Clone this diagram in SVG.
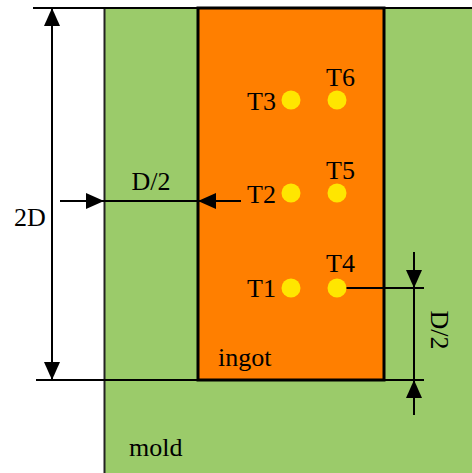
<svg xmlns="http://www.w3.org/2000/svg" width="472" height="473" viewBox="0 0 472 473">
<style>
  text { font-family: "Liberation Serif", "Times New Roman", serif; font-size: 26px; fill: #000; }
  .dim { stroke: #000; stroke-width: 2; fill: none; }
  .dot { fill: #FFE600; }
</style>
<defs>
  <marker id="arr" viewBox="0 0 18 16" refX="18" refY="8" markerWidth="18" markerHeight="16" markerUnits="userSpaceOnUse" orient="auto-start-reverse">
    <path d="M0,0 L18,8 L0,16 z" fill="#000"/>
  </marker>
</defs>
<rect width="472" height="473" fill="#fff"/>
<g id="mold">
  <rect x="104" y="8" width="370" height="467" fill="#9BCB6A"/>
  <line x1="104.5" y1="8" x2="104.5" y2="473" stroke="#222" stroke-width="2"/>
  <text x="129" y="456">mold</text>
</g>
<g id="ingot">
  <rect x="198" y="8" width="186" height="372" fill="#FF7F00" stroke="#000" stroke-width="3"/>
  <text x="218" y="366">ingot</text>
</g>
<g id="T1"><circle class="dot" cx="291" cy="288" r="9.5"/><text x="247" y="297">T1</text></g>
<g id="T2"><circle class="dot" cx="291" cy="193" r="9.5"/><text x="247" y="203">T2</text></g>
<g id="T3"><circle class="dot" cx="291" cy="100" r="9.5"/><text x="247" y="110">T3</text></g>
<g id="T4"><circle class="dot" cx="337" cy="288" r="9.5"/><text x="326" y="272">T4</text></g>
<g id="T5"><circle class="dot" cx="337" cy="193" r="9.5"/><text x="326" y="179">T5</text></g>
<g id="T6"><circle class="dot" cx="337" cy="100" r="9.5"/><text x="326" y="86">T6</text></g>
<g id="connectors">
  <line class="dim" x1="33" y1="8" x2="472" y2="8"/>
  <line class="dim" x1="36" y1="380" x2="424" y2="380"/>
  <line class="dim" x1="52" y1="380" x2="52" y2="8" marker-start="url(#arr)" marker-end="url(#arr)"/>
  <text x="14" y="226">2D</text>
  <line class="dim" x1="60" y1="201" x2="104" y2="201" marker-end="url(#arr)"/>
  <line class="dim" x1="104" y1="201" x2="198" y2="201"/>
  <line class="dim" x1="241" y1="201" x2="198" y2="201" marker-end="url(#arr)"/>
  <text x="151" y="190" text-anchor="middle">D/2</text>
  <line class="dim" x1="346.5" y1="288" x2="424" y2="288"/>
  <line class="dim" x1="414" y1="252" x2="414" y2="288" marker-end="url(#arr)"/>
  <line class="dim" x1="414" y1="288" x2="414" y2="380"/>
  <line class="dim" x1="414" y1="415" x2="414" y2="380" marker-end="url(#arr)"/>
  <text x="0" y="0" text-anchor="middle" transform="translate(431,330) rotate(90)">D/2</text>
</g>
</svg>
